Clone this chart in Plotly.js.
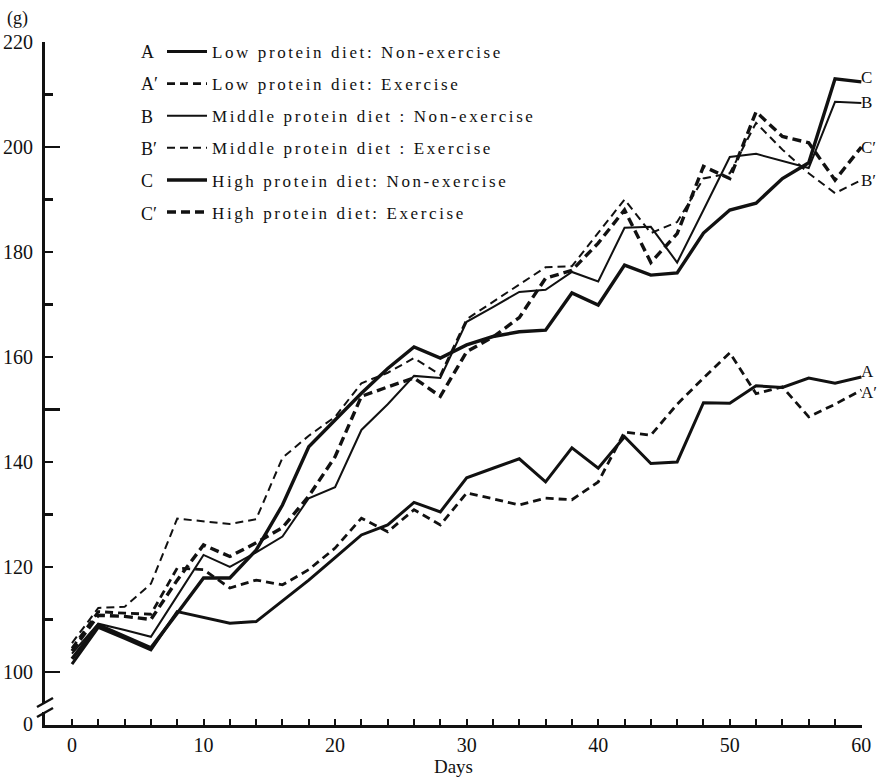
<!DOCTYPE html>
<html><head><meta charset="utf-8">
<script src="https://cdn.plot.ly/plotly-3.0.1.min.js"></script>
<style>
html,body{margin:0;padding:0;background:#fff;}
#chart{width:877px;height:777px;}
.legendtext{letter-spacing:2.6px;}
</style></head><body><div id="chart"></div>
<script>
// ---- data ----
const days = [0,2,4,6,8,10,12,14,16,18,20,22,24,26,28,30,32,34,36,38,40,42,44,46,48,50,52,54,56,58,60];
const lowNonEx  = [101.5,108.5,106.4,104.2,111.5,110.4,109.3,109.6,113.5,117.5,121.8,126.1,128.0,132.3,130.5,137.0,138.8,140.6,136.2,142.7,138.8,144.8,139.7,140.0,151.3,151.2,154.5,154.2,156.0,155.0,156.2];
const lowEx     = [104.5,111.5,111.2,111.0,119.8,119.5,116.0,117.5,116.6,119.5,123.6,129.3,126.7,130.9,128.0,134.1,133.0,131.8,133.1,132.8,136.2,145.7,145.1,151.0,156.0,160.8,153.0,154.3,148.6,151.0,153.7];
const midNonEx  = [103.5,109.2,108.0,106.7,114.5,122.3,120.0,122.8,125.8,133.1,135.2,146.1,151.0,156.4,156.0,166.7,169.5,172.4,172.8,176.2,174.4,184.6,184.8,178.0,188.0,198.1,198.7,197.3,196.0,208.6,208.4];
const midEx     = [105.5,112.2,112.4,116.8,129.2,128.7,128.2,129.1,140.8,145.0,148.6,155.0,157.0,159.8,156.6,167.2,170.5,173.8,177.1,177.3,183.6,190.0,183.6,185.7,194.0,195.0,204.6,199.5,195.0,191.2,193.7];
const highNonEx = [102.5,109.0,106.8,104.6,111.2,117.9,117.9,123.2,131.8,142.9,148.0,153.1,157.8,161.9,159.8,162.3,163.9,164.8,165.1,172.2,169.9,177.5,175.6,176.0,183.6,188.0,189.3,194.0,197.0,213.0,212.4];
const highEx    = [104.0,110.8,110.6,110.0,117.5,124.2,122.0,124.6,127.5,133.5,141.0,152.5,154.3,156.0,152.5,161.0,163.8,167.5,175.0,176.5,181.7,188.0,178.0,183.5,196.3,194.0,206.7,202.0,200.8,193.7,200.0];

const seriesNames = [
  "Low protein diet: Non-exercise",
  "Low protein diet: Exercise",
  "Middle protein diet : Non-exercise",
  "Middle protein diet : Exercise",
  "High protein diet: Non-exercise",
  "High protein diet: Exercise"
];
const seriesLetters = ["A", "A\u2032", "B", "B\u2032", "C", "C\u2032"];
const seriesValues = [lowNonEx, lowEx, midNonEx, midEx, highNonEx, highEx];

const yTickVals = [90,100,120,140,160,180,200,220];
const yTickText = ["0","100","120","140","160","180","200","220"];
const yMinorVals = [110,130,150,170,190,210];
const yLongVals = [100,150,200];
const xTickVals = [0,10,20,30,40,50,60];
const xTickText = ["0","10","20","30","40","50","60"];

// ---- styles ----
const INK = "#111";
const serif = "Liberation Serif, Times New Roman, serif";
const styles = [
  {width:3.0, dash:"solid"},
  {width:2.8, dash:"8px,5px"},
  {width:2.0, dash:"solid"},
  {width:2.0, dash:"8px,5px"},
  {width:3.4, dash:"solid"},
  {width:3.4, dash:"9px,5px"}
];
const labelShiftPx = [5, -2, 0, 0, 4, 0];

// pixel helpers (plot area: x 45..862, y 42..725)
const L = 45, R = 862, T = 42, B = 725;
const px = v => (v - L) / (R - L);
const py = v => (B - v) / (B - T);

const traces = seriesValues.map((vals, i) => ({
  type: "scatter", mode: "lines",
  x: days, y: vals,
  name: seriesNames[i],
  legendgroup: "g" + i,
  line: {color: INK, width: styles[i].width, dash: styles[i].dash},
  hoverinfo: "skip"
}));
// overlay axis for long ticks
traces.push({type:"scatter", x:[null], y:[null], yaxis:"y2", showlegend:false, hoverinfo:"skip"});

const annotations = [];
seriesLetters.forEach((s, i) => {
  const n = days.length - 1;
  annotations.push({
    x: days[n], y: seriesValues[i][n], xref: "x", yref: "y",
    text: s, showarrow: false, xanchor: "left", yanchor: "middle",
    xshift: -2, yshift: labelShiftPx[i],
    font: {family: serif, size: 17, color: INK}
  });
});
// legend letters
const rowY = [52, 84.3, 116.6, 148.9, 181.2, 213.5];
seriesLetters.forEach((s, i) => {
  annotations.push({
    x: px(139), y: py(rowY[i]), xref: "paper", yref: "paper",
    text: s, showarrow: false, xanchor: "left", yanchor: "middle",
    font: {family: serif, size: 18, color: INK}
  });
});
annotations.push({
  x: px(5), y: py(19), xref: "paper", yref: "paper",
  text: "(g)", showarrow: false, xanchor: "left", yanchor: "middle",
  font: {family: serif, size: 18, color: INK}
});

const shapes = [
  {type:"rect", xref:"paper", yref:"paper", x0:px(41), x1:px(50), y0:py(712), y1:py(704),
   fillcolor:"#fff", line:{width:0}, layer:"above"},
  {type:"line", xref:"paper", yref:"paper", x0:px(37), y0:py(707), x1:px(53), y1:py(698),
   line:{color:INK, width:2.5}, layer:"above"},
  {type:"line", xref:"paper", yref:"paper", x0:px(37), y0:py(717), x1:px(53), y1:py(708),
   line:{color:INK, width:2.5}, layer:"above"}
];

const layout = {
  width: 877, height: 777,
  margin: {l: L, r: 877 - R, t: T, b: 777 - B, pad: 0},
  paper_bgcolor: "#fff", plot_bgcolor: "#fff",
  showlegend: true,
  legend: {
    x: px(162), y: py(34), xanchor: "left", yanchor: "top",
    bgcolor: "rgba(0,0,0,0)", borderwidth: 0,
    font: {family: serif, size: 17, color: INK},
    tracegroupgap: 7, itemwidth: 40, traceorder: "grouped"
  },
  xaxis: {
    range: [-2.05, 60.05], showgrid: false, zeroline: false,
    showline: true, linewidth: 3, linecolor: INK,
    ticks: "inside", ticklen: 6, tickwidth: 2, tickcolor: INK,
    tickmode: "array", tickvals: xTickVals, ticktext: xTickText,
    tickfont: {family: serif, size: 20, color: INK},
    minor: {tickmode: "array", tickvals: days, ticks: "inside", ticklen: 6, tickwidth: 2, tickcolor: INK},
    title: {text: "Days", font: {family: serif, size: 19, color: INK}, standoff: 6}
  },
  yaxis: {
    range: [89.9, 220], showgrid: false, zeroline: false,
    showline: true, linewidth: 3, linecolor: INK,
    ticks: "inside", ticklen: 8, tickwidth: 2.5, tickcolor: INK,
    tickmode: "array", tickvals: yTickVals, ticktext: yTickText,
    tickfont: {family: serif, size: 20, color: INK},
    ticklabelstandoff: 5,
    minor: {tickmode: "array", tickvals: yMinorVals, ticks: "inside", ticklen: 8, tickwidth: 2.5, tickcolor: INK}
  },
  yaxis2: {
    overlaying: "y", side: "left", range: [89.9, 220],
    showgrid: false, zeroline: false, showline: false,
    ticks: "inside", ticklen: 15, tickwidth: 2.5, tickcolor: INK,
    tickmode: "array", tickvals: yLongVals, showticklabels: false
  },
  annotations: annotations,
  shapes: shapes
};

Plotly.newPlot("chart", traces, layout, {staticPlot: true, displayModeBar: false});
</script>
</body></html>
